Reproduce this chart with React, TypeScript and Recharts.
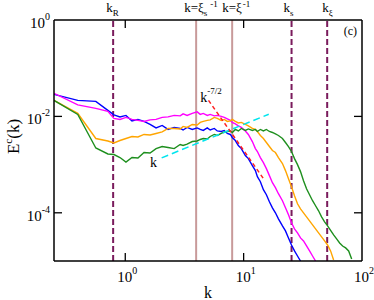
import React from 'react';
import { LineChart, Line, XAxis, YAxis, ReferenceLine, ReferenceDot } from 'recharts';

const FONT = "'Liberation Serif', 'Times New Roman', serif";

// wavenumbers
const K = [0.25, 0.397, 0.564, 0.713, 0.802, 0.902, 1.014, 1.14, 1.28, 1.44,
  1.62, 1.82, 2.05, 2.30, 2.59, 2.91, 3.08, 3.33, 3.68, 4.05,
  4.30, 4.56, 4.93, 5.22, 5.65, 5.99, 6.47, 6.86, 7.28, 7.72,
  8.02, 8.51, 9.02, 9.56, 10.34, 10.96, 11.85, 12.57, 13.07, 13.85,
  14.69, 15.57, 16.51, 17.51, 18.56, 19.68, 21.28, 22.57, 23.93, 25.37,
  26.90, 28.52, 30.24, 32.06, 34.00, 36.05, 38.22, 40.52, 42.96, 45.55,
  48.30, 51.21, 54.29, 57.57, 61.04, 64.71, 68.61, 72.75, 77.14, 81.79];

const blueE = [0.0287, 0.0215, 0.0205, 0.01334, 0.01075, 0.00976, 0.01049, 0.00806, 0.00866, 0.00787,
  0.00681, 0.00576, 0.00649, 0.00536, 0.0059, 0.00562, 0.00523, 0.0059, 0.00536, 0.00576,
  0.00536, 0.00511, 0.00576, 0.00523, 0.00562, 0.00499, 0.00487, 0.00511, 0.00442, 0.00422,
  0.00365, 0.00316, 0.00249, 0.00215, 0.00154, 0.00133, 0.000953, 0.00075, 0.000562, 0.000442,
  0.000301, 0.000237, 0.00017, 0.000127, 0.0001, 7.5e-5, 5.36e-5, 4.22e-5, 3.01e-5, 2.15e-5,
  1.62e-5, 1.27e-5, 1.0e-5];

const magentaE = [0.0301, 0.01736, 0.01468, 0.01271, 0.00909, 0.00866, 0.00953, 0.00866, 0.00825, 0.00787,
  0.00846, 0.00866, 0.00953, 0.00976, 0.01049, 0.01025, 0.01128, 0.01049, 0.01155, 0.01241,
  0.01101, 0.01155, 0.01049, 0.01101, 0.01025, 0.01049, 0.01, 0.00953, 0.00887, 0.00825,
  0.0075, 0.00698, 0.00634, 0.0059, 0.00499, 0.00422, 0.00301, 0.00215, 0.00187, 0.0014,
  0.0011, 0.000825, 0.00059, 0.000422, 0.000332, 0.000249, 0.000178, 0.000127, 9.09e-5, 6.19e-5,
  4.64e-5, 3.83e-5, 3.01e-5, 2.61e-5, 2.05e-5, 1.62e-5, 1.27e-5, 1.0e-5];

const orangeE = [0.02154, 0.01155, 0.00348, 0.00309, 0.00281, 0.00316, 0.00348, 0.00383, 0.00374, 0.00422,
  0.00412, 0.00442, 0.00476, 0.00562, 0.00562, 0.00549, 0.00619, 0.0059, 0.00681, 0.00665,
  0.0075, 0.00787, 0.00825, 0.00846, 0.00953, 0.00909, 0.00825, 0.00866, 0.00787, 0.00806,
  0.00866, 0.00787, 0.00732, 0.0075, 0.00681, 0.00634, 0.00562, 0.00536, 0.00487, 0.00402,
  0.00348, 0.00287, 0.00237, 0.00196, 0.00178, 0.0014, 0.00105, 0.00075, 0.000511, 0.000348,
  0.000226, 0.000154, 0.000121, 0.0001, 8.25e-5, 6.81e-5, 5.62e-5, 4.64e-5, 3.83e-5, 3.16e-5,
  2.61e-5, 2.15e-5, 1.62e-5, 1.05e-5];

const greenE = [0.02154, 0.01101, 0.00221, 0.00166, 0.00162, 0.0014, 0.00113, 0.0014, 0.00137, 0.00178,
  0.00174, 0.00215, 0.00237, 0.00226, 0.00215, 0.00261, 0.00249, 0.00267, 0.00301, 0.00309,
  0.00332, 0.00348, 0.0034, 0.00383, 0.00422, 0.00402, 0.00442, 0.00476, 0.00487, 0.00499,
  0.00464, 0.00536, 0.00499, 0.00562, 0.00511, 0.00549, 0.00511, 0.00536, 0.00487, 0.00536,
  0.00499, 0.00536, 0.00487, 0.00464, 0.00432, 0.00402, 0.00348, 0.00287, 0.00237, 0.00187,
  0.00133, 0.001, 0.000715, 0.000464, 0.000316, 0.000237, 0.000178, 0.00014, 0.00011, 8.25e-5,
  6.49e-5, 5.36e-5, 4.32e-5, 3.48e-5, 2.87e-5, 2.37e-5, 2.05e-5, 1.87e-5, 1.62e-5, 1.1e-5];

// power-law guide lines
const fitOneK = [2.03, 16.3];
const fitOneE = [0.00138, 0.0111];
const fitSteepK = [5.05, 14.8];
const fitSteepE = [0.0215, 0.0005];

// characteristic wavenumbers
const kR = 0.79;
const kXiS = 3.97;
const kXi = 8.0;
const kS = 25.4;
const kXiLen = 50.8;

const xTicks = [1, 10, 100];
const yTicks = [1e-4, 1e-2, 1];

const rows = K.map((k, i) => ({
  k,
  blue: blueE[i] ?? null,
  magenta: magentaE[i] ?? null,
  orange: orangeE[i] ?? null,
  green: greenE[i] ?? null,
}));
const fitOne = fitOneK.map((k, i) => ({ k, E: fitOneE[i] }));
const fitSteep = fitSteepK.map((k, i) => ({ k, E: fitSteepE[i] }));

const expOf = (v: number) => Math.round(Math.log10(v));

const BottomTick = (props: any) => {
  const { x, y, payload } = props;
  const e = expOf(payload.value);
  return (
    <g>
      {e !== 2 && <line x1={x} x2={x} y1={y} y2={y - 8} stroke="#000" strokeWidth={1.3} />}
      <text x={x + 2} y={y + 21} textAnchor="middle" fontFamily={FONT} fontSize={15} fill="#000">
        10<tspan dy={-8} fontSize={10}>{e}</tspan>
      </text>
    </g>
  );
};

const TopTick = (props: any) => {
  const { x, y, payload } = props;
  const e = expOf(payload.value);
  if (e === 2) return <g />;
  return <line x1={x} x2={x} y1={y} y2={y + 8} stroke="#000" strokeWidth={1.3} />;
};

const LeftTick = (props: any) => {
  const { x, y, payload } = props;
  const e = expOf(payload.value);
  return (
    <g>
      {e !== 0 && <line x1={x} x2={x + 8} y1={y} y2={y} stroke="#000" strokeWidth={1.3} />}
      <text x={x - 4} y={y + 8} textAnchor="end" fontFamily={FONT} fontSize={15} fill="#000">
        10<tspan dy={-8} fontSize={10}>{e === 0 ? '0' : `-${-e}`}</tspan>
      </text>
    </g>
  );
};

const RightTick = (props: any) => {
  const { x, y, payload } = props;
  const e = expOf(payload.value);
  if (e === 0) return <g />;
  return <line x1={x} x2={x - 8} y1={y} y2={y} stroke="#000" strokeWidth={1.3} />;
};

const topLabel = (dx: number, parts: React.ReactNode) => (props: any) => {
  const vb = props.viewBox || {};
  return (
    <text x={vb.x + dx} y={vb.y - 8} fontFamily={FONT} fontSize={13} fill="#000" stroke="none">
      {parts}
    </text>
  );
};

const dotLabel = (parts: React.ReactNode, size: number) => (props: any) => {
  const vb = props.viewBox || {};
  return (
    <text x={vb.x} y={vb.y} fontFamily={FONT} fontSize={size} fill="#000" stroke="none">
      {parts}
    </text>
  );
};

const DASH_COLOR = '#7a1b5c';
const SOLID_COLOR = '#c89a9a';

export default function App() {
  return (
    <div style={{ position: 'absolute', left: 0, top: 0 }}>
      <LineChart width={374} height={300} data={rows} margin={{ top: 10, right: 2, bottom: 9, left: 14 }}>
        <XAxis
          dataKey="k"
          type="number"
          scale="log"
          domain={[0.25, 100]}
          allowDataOverflow
          ticks={xTicks}
          height={30}
          tickSize={0}
          tickMargin={0}
          tickLine={false}
          axisLine={{ stroke: '#000', strokeWidth: 1.5 }}
          tick={<BottomTick />}
          label={{
            content: (p: any) => (
              <text x={p.viewBox.x + p.viewBox.width / 2} y={p.viewBox.y + 37} textAnchor="middle"
                fontFamily={FONT} fontSize={16} fill="#000">k</text>
            ),
          }}
        />
        <XAxis
          xAxisId="top"
          orientation="top"
          dataKey="k"
          type="number"
          scale="log"
          domain={[0.25, 100]}
          allowDataOverflow
          ticks={xTicks}
          height={10}
          tickSize={0}
          tickMargin={0}
          tickLine={false}
          axisLine={{ stroke: '#000', strokeWidth: 1.5 }}
          tick={<TopTick />}
        />
        <YAxis
          type="number"
          scale="log"
          domain={[1e-5, 1]}
          allowDataOverflow
          ticks={yTicks}
          width={40}
          tickSize={0}
          tickMargin={0}
          tickLine={false}
          axisLine={{ stroke: '#000', strokeWidth: 1.5 }}
          tick={<LeftTick />}
          label={{
            content: (p: any) => {
              const cx = p.viewBox.x + p.viewBox.width - 35;
              const cy = p.viewBox.y + p.viewBox.height / 2 - 4;
              return (
                <text x={cx} y={cy} transform={`rotate(-90, ${cx}, ${cy})`} textAnchor="middle"
                  fontFamily={FONT} fontSize={17} fill="#000">
                  E<tspan dy={-7} fontSize={11}>c</tspan><tspan dy={7}>(k)</tspan>
                </text>
              );
            },
          }}
        />
        <YAxis
          yAxisId="right"
          orientation="right"
          type="number"
          scale="log"
          domain={[1e-5, 1]}
          allowDataOverflow
          ticks={yTicks}
          width={10}
          tickSize={0}
          tickMargin={0}
          tickLine={false}
          axisLine={{ stroke: '#000', strokeWidth: 1.5 }}
          tick={<RightTick />}
        />

        <ReferenceLine x={kR} stroke={DASH_COLOR} strokeWidth={2} strokeDasharray="6 3"
          label={topLabel(-7, <>k<tspan dy={4} fontSize={9}>R</tspan></>)} />
        <ReferenceLine x={kXiS} stroke={SOLID_COLOR} strokeWidth={2}
          label={topLabel(-12, <>k=ξ<tspan dy={4} fontSize={9}>s</tspan><tspan dx={3} dy={-9} fontSize={9}>-1</tspan></>)} />
        <ReferenceLine x={kXi} stroke={SOLID_COLOR} strokeWidth={2}
          label={topLabel(-10, <>k=ξ<tspan dx={1} dy={-5} fontSize={9}>-1</tspan></>)} />
        <ReferenceLine x={kS} stroke={DASH_COLOR} strokeWidth={2} strokeDasharray="6 3"
          label={topLabel(-8, <>k<tspan dy={4} fontSize={9}>s</tspan></>)} />
        <ReferenceLine x={kXiLen} stroke={DASH_COLOR} strokeWidth={2} strokeDasharray="6 3"
          label={topLabel(-5, <>k<tspan dy={4} fontSize={9}>ξ</tspan></>)} />

        <Line dataKey="blue" stroke="#0000ff" strokeWidth={1.4} dot={false} isAnimationActive={false} />
        <Line dataKey="magenta" stroke="#ff00ff" strokeWidth={1.4} dot={false} isAnimationActive={false} />
        <Line dataKey="orange" stroke="#ffa500" strokeWidth={1.4} dot={false} isAnimationActive={false} />
        <Line dataKey="green" stroke="#1e8f1e" strokeWidth={1.4} dot={false} isAnimationActive={false} />
        <Line data={fitOne} dataKey="E" stroke="#00e5ee" strokeWidth={1.5} strokeDasharray="7 4" dot={false} isAnimationActive={false} />
        <Line data={fitSteep} dataKey="E" stroke="#ff2020" strokeWidth={1.5} strokeDasharray="4 3" dot={false} isAnimationActive={false} />

        <ReferenceDot x={4.3} y={0.0199} r={0} fill="none" stroke="none"
          label={dotLabel(<>k<tspan dy={-8} fontSize={9}>-7/2</tspan></>, 14)} />
        <ReferenceDot x={1.62} y={0.00088} r={0} fill="none" stroke="none"
          label={dotLabel(<>k</>, 14)} />
        <ReferenceDot x={70} y={0.49} r={0} fill="none" stroke="none"
          label={dotLabel(<>(c)</>, 12)} />
      </LineChart>
    </div>
  );
}
